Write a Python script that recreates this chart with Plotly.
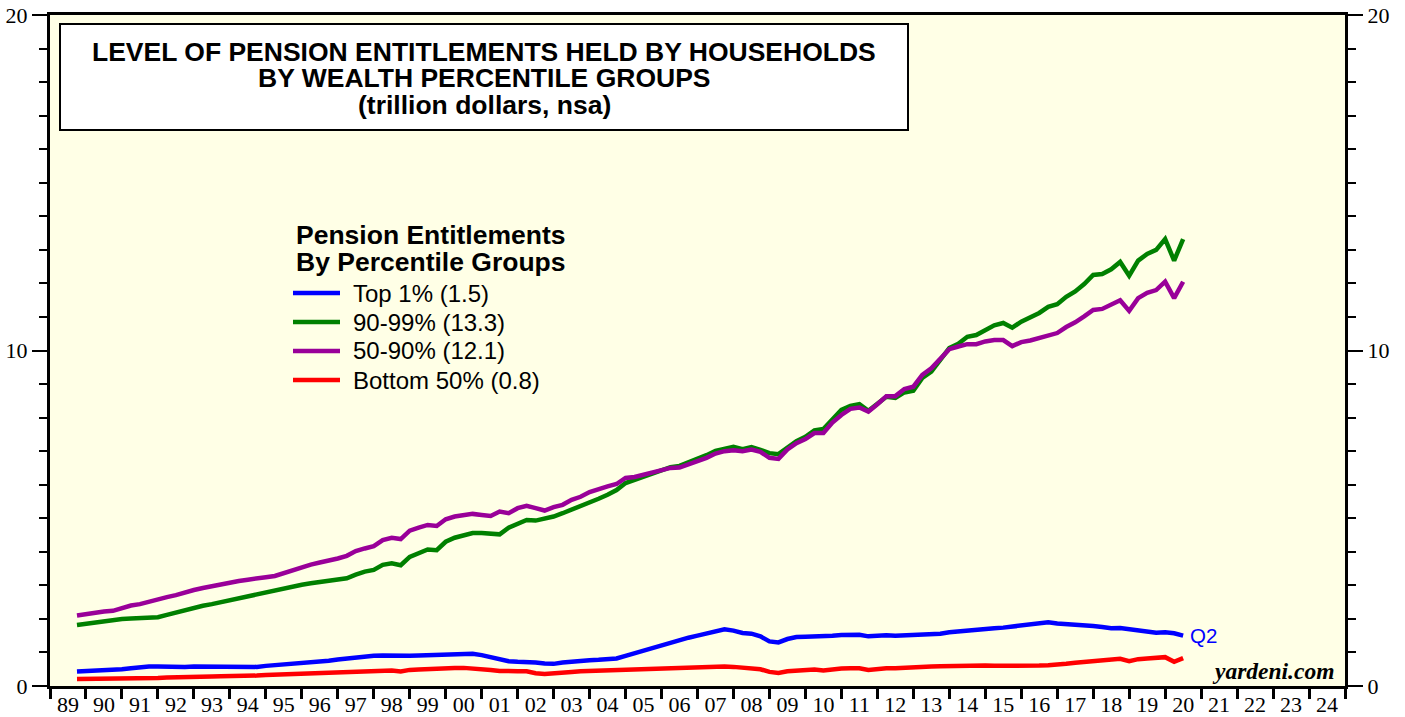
import plotly.graph_objects as go

# quarterly dates (end of quarter), 1989Q3 .. 2020Q2
start_year = 1989.75
n_points = 124
dates = [start_year + 0.25 * i for i in range(n_points)]

top1 = [
    0.43, 0.44, 0.45, 0.46, 0.46, 0.50, 0.53, 0.56, 0.58, 0.58, 0.57, 0.59, 0.57,
    0.58, 0.58, 0.57, 0.56, 0.55, 0.57, 0.58, 0.57, 0.60, 0.62, 0.63, 0.65,
    0.67, 0.68, 0.70, 0.75, 0.79, 0.82, 0.86, 0.88, 0.90, 0.91, 0.90, 0.89,
    0.90, 0.91, 0.92, 0.93, 0.94, 0.95, 0.96, 0.96, 0.92, 0.85, 0.80, 0.74,
    0.72, 0.72, 0.70, 0.67, 0.66, 0.70, 0.73, 0.75, 0.77, 0.78, 0.79, 0.82,
    0.90, 0.98, 1.06, 1.14, 1.22, 1.30, 1.37, 1.44, 1.50, 1.57, 1.63, 1.69,
    1.65, 1.58, 1.56, 1.48, 1.33, 1.30, 1.40, 1.46, 1.47, 1.48, 1.46, 1.50,
    1.52, 1.53, 1.53, 1.48, 1.50, 1.51, 1.50, 1.51, 1.52, 1.52, 1.52, 1.56,
    1.60, 1.63, 1.66, 1.67, 1.70, 1.72, 1.74, 1.77, 1.80, 1.84, 1.88, 1.90,
    1.86, 1.85, 1.83, 1.81, 1.79, 1.76, 1.72, 1.73, 1.69, 1.66, 1.63, 1.59,
    1.60, 1.57, 1.50,
]

p90_99 = [
    1.82, 1.86, 1.90, 1.94, 1.98, 2.00, 2.01, 2.02, 2.03, 2.05, 2.12, 2.19, 2.27,
    2.34, 2.39, 2.44, 2.50, 2.55, 2.61, 2.67, 2.73, 2.80, 2.86, 2.92, 2.98,
    3.02, 3.06, 3.09, 3.12, 3.16, 3.21, 3.32, 3.41, 3.46, 3.61, 3.66, 3.60,
    3.85, 3.95, 4.07, 4.05, 4.30, 4.42, 4.48, 4.56, 4.56, 4.53, 4.52, 4.72,
    4.82, 4.95, 4.93, 4.98, 5.05, 5.15, 5.25, 5.35, 5.48, 5.58, 5.70, 5.84,
    6.05, 6.15, 6.24, 6.35, 6.45, 6.52, 6.56, 6.66, 6.78, 6.88, 7.01, 7.08,
    7.13, 7.06, 7.12, 7.04, 6.94, 6.91, 7.12, 7.30, 7.43, 7.62, 7.66, 7.95,
    8.23, 8.35, 8.40, 8.20, 8.40, 8.62, 8.59, 8.75, 8.80, 9.18, 9.37, 9.70,
    10.07, 10.20, 10.41, 10.46, 10.62, 10.75, 10.82, 10.68, 10.86, 10.98, 11.12, 11.30,
    11.38, 11.60, 11.76, 11.98, 12.25, 12.28, 12.42, 12.64, 12.23, 12.68, 12.88, 13.00,
    13.32, 12.68, 13.32,
]

p50_90 = [
    2.10, 2.15, 2.19, 2.22, 2.24, 2.33, 2.40, 2.44, 2.52, 2.60, 2.65, 2.71, 2.80,
    2.86, 2.92, 2.98, 3.03, 3.08, 3.13, 3.17, 3.19, 3.24, 3.28, 3.37, 3.46,
    3.54, 3.62, 3.68, 3.73, 3.80, 3.88, 4.02, 4.10, 4.17, 4.35, 4.42, 4.38,
    4.63, 4.72, 4.80, 4.77, 4.97, 5.05, 5.08, 5.13, 5.10, 5.07, 5.20, 5.15,
    5.30, 5.37, 5.30, 5.23, 5.33, 5.40, 5.55, 5.64, 5.78, 5.88, 5.95, 6.02,
    6.20, 6.23, 6.30, 6.36, 6.46, 6.50, 6.51, 6.60, 6.70, 6.80, 6.93, 7.00,
    7.03, 7.00, 7.05, 6.98, 6.80, 6.77, 7.05, 7.24, 7.36, 7.54, 7.54, 7.85,
    8.08, 8.26, 8.30, 8.18, 8.40, 8.64, 8.64, 8.85, 8.92, 9.27, 9.47, 9.75,
    10.04, 10.12, 10.19, 10.19, 10.27, 10.31, 10.31, 10.13, 10.25, 10.30, 10.37, 10.46,
    10.52, 10.70, 10.84, 11.02, 11.21, 11.24, 11.36, 11.50, 11.18, 11.56, 11.72, 11.80,
    12.05, 11.56, 12.05,
]

bottom50 = [
    0.21, 0.21, 0.22, 0.22, 0.21, 0.22, 0.23, 0.24, 0.24, 0.24, 0.25, 0.25, 0.26,
    0.27, 0.27, 0.28, 0.29, 0.29, 0.30, 0.30, 0.31, 0.33, 0.34, 0.35, 0.36,
    0.37, 0.37, 0.38, 0.39, 0.40, 0.41, 0.43, 0.44, 0.46, 0.47, 0.46, 0.43,
    0.48, 0.49, 0.51, 0.50, 0.53, 0.54, 0.54, 0.53, 0.52, 0.48, 0.45, 0.46,
    0.44, 0.44, 0.38, 0.36, 0.37, 0.40, 0.42, 0.44, 0.45, 0.45, 0.46, 0.47,
    0.48, 0.48, 0.49, 0.50, 0.51, 0.52, 0.53, 0.54, 0.55, 0.56, 0.57, 0.58,
    0.57, 0.55, 0.53, 0.50, 0.42, 0.39, 0.44, 0.46, 0.48, 0.49, 0.46, 0.50,
    0.52, 0.53, 0.53, 0.48, 0.51, 0.53, 0.53, 0.55, 0.56, 0.57, 0.58, 0.59,
    0.60, 0.60, 0.60, 0.61, 0.61, 0.60, 0.60, 0.58, 0.59, 0.60, 0.61, 0.62,
    0.63, 0.66, 0.69, 0.71, 0.74, 0.75, 0.77, 0.81, 0.74, 0.80, 0.82, 0.83,
    0.86, 0.72, 0.83,
]

series_names = ["Top 1% (1.5)", "90-99% (13.3)", "50-90% (12.1)", "Bottom 50% (0.8)"]
series_values = [top1, p90_99, p50_90, bottom50]
series_colors = ["#0000FF", "#008000", "#990099", "#FF0000"]

year_ticks = list(range(1989, 2026))
year_labels = [f"{y % 100:02d}" for y in range(1989, 2025)] + [""]
y_ticks = [0, 10, 20]

title_lines = ["LEVEL OF PENSION ENTITLEMENTS HELD BY HOUSEHOLDS",
               "BY WEALTH PERCENTILE GROUPS",
               "(trillion dollars, nsa)"]
legend_title_lines = ["Pension Entitlements", "By Percentile Groups"]

SANS = "Liberation Sans, Arial, sans-serif"
SERIF = "Liberation Serif, Times New Roman, serif"

# figure and plot-area geometry in pixels
FIG_W, FIG_H = 1405, 717
L, R, T, B = 50, 1345, 15, 686
W, H = R - L, B - T


def px(x):
    return (x - L) / W


def py(y):
    return (B - y) / H


fig = go.Figure()
for name, vals, col in zip(series_names, series_values, series_colors):
    fig.add_trace(go.Scatter(x=dates, y=vals, mode="lines", name=name,
                             line=dict(color=col, width=4.5), showlegend=False))
# right-hand axis companion (same data, invisible)
fig.add_trace(go.Scatter(x=dates, y=top1, mode="lines", yaxis="y2",
                         line=dict(color="rgba(0,0,0,0)", width=0),
                         showlegend=False, hoverinfo="skip"))

axis_common = dict(showline=True, linecolor="black", linewidth=3,
                   showgrid=False, zeroline=False, automargin=False)
yfont = dict(family=SERIF, size=22, color="black")
minor_y = dict(dtick=1, ticks="outside", ticklen=8, tickwidth=2,
               tickcolor="black", showgrid=False)

fig.update_layout(
    width=FIG_W, height=FIG_H,
    margin=dict(l=L, r=FIG_W - R, t=T, b=FIG_H - B, autoexpand=False),
    paper_bgcolor="white",
    plot_bgcolor="#FFFFE6",
    showlegend=False,
    xaxis=dict(range=[1989, 2025], tickvals=year_ticks, ticktext=year_labels,
               ticks="outside", ticklen=10, tickwidth=3, tickcolor="black",
               ticklabelshift=18, ticklabelstandoff=-13,
               tickfont=dict(family=SERIF, size=22, color="black"),
               mirror=True, **axis_common),
    yaxis=dict(range=[0, 20], tickvals=y_ticks, ticks="outside", ticklen=15,
               tickwidth=2, tickcolor="black", tickfont=yfont,
               minor=minor_y, mirror=True, **axis_common),
    yaxis2=dict(range=[0, 20], tickvals=y_ticks, ticks="outside", ticklen=15,
                tickwidth=2, tickcolor="black", overlaying="y", side="right",
                tickfont=yfont, minor=minor_y, **axis_common),
)

# title box
fig.add_shape(type="rect", xref="paper", yref="paper",
              x0=px(60), x1=px(908), y0=py(130), y1=py(24),
              line=dict(color="black", width=2), fillcolor="white", layer="above")
for txt, yy in zip(title_lines, [52, 78, 105]):
    fig.add_annotation(text=f"<b>{txt}</b>", xref="paper", yref="paper",
                       x=px(484), y=py(yy), xanchor="center", yanchor="middle",
                       showarrow=False, font=dict(family=SANS, size=26.5, color="black"))

# legend (drawn as annotations + line samples)
for txt, yy in zip(legend_title_lines, [235, 262]):
    fig.add_annotation(text=f"<b>{txt}</b>", xref="paper", yref="paper",
                       x=px(294), y=py(yy), xanchor="left", yanchor="middle",
                       showarrow=False, font=dict(family=SANS, size=26.5, color="black"))
for i, (name, col) in enumerate(zip(series_names, series_colors)):
    yy = 293 + 29 * i
    fig.add_shape(type="line", xref="paper", yref="paper",
                  x0=px(293), x1=px(340), y0=py(yy), y1=py(yy),
                  line=dict(color=col, width=4.5))
    fig.add_annotation(text=name, xref="paper", yref="paper",
                       x=px(351), y=py(yy), xanchor="left", yanchor="middle",
                       showarrow=False, font=dict(family=SANS, size=24, color="black"))

fig.add_annotation(text="Q2", x=dates[-1], y=top1[-1], xref="x", yref="y",
                   xanchor="left", yanchor="middle", xshift=5, showarrow=False,
                   font=dict(family=SANS, size=20.5, color="#0000FF"))
fig.add_annotation(text="<b><i>yardeni.com</i></b>", xref="paper", yref="paper",
                   x=px(1336), y=py(671), xanchor="right", yanchor="middle",
                   showarrow=False, font=dict(family=SERIF, size=23.5, color="black"))

fig.write_html("out.html",
               config={"displayModeBar": False},
               post_script="document.body.style.margin='0';"
                           "document.body.style.overflow='hidden';")
